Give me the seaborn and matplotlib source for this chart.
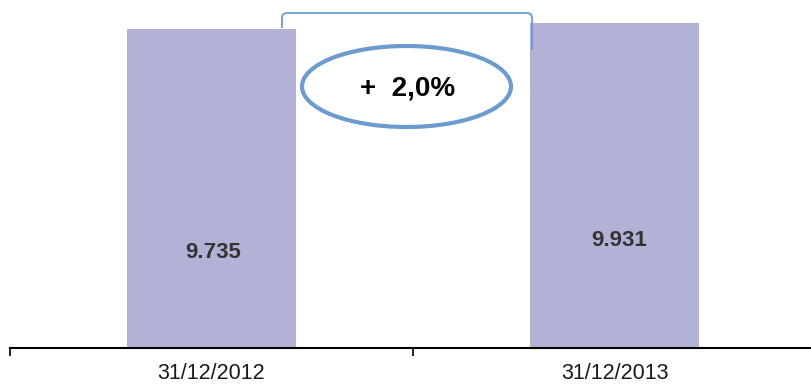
import matplotlib
matplotlib.use("Agg")
import matplotlib.pyplot as plt
import seaborn as sns
import pandas as pd
from matplotlib.patches import Ellipse, PathPatch
from matplotlib.path import Path
from matplotlib.transforms import Affine2D

categories = ["31/12/2012", "31/12/2013"]
values = [9735, 9931]
value_labels = ["9.735", "9.931"]
change_label = "+  2,0%"

BAR_COLOR = "#B1B2D6"
BLUE = "#6C9BD0"
W, H = 811, 385

sns.set_theme(style="white")
plt.rcParams["font.family"] = ["Liberation Sans", "DejaVu Sans"]

fig = plt.figure(figsize=(W / 100, H / 100), dpi=100)
ax = fig.add_axes([10 / W, (H - 348) / H, 806 / W, 348 / H])

df = pd.DataFrame({"date": categories, "value": values})
sns.barplot(data=df, x="date", y="value", color=BAR_COLOR, saturation=1,
            width=0.42, ax=ax, edgecolor="none")

ax.set_xlim(-0.5, 1.5)
ax.set_ylim(0, values[0] * 348 / 319)
ax.set_xlabel("")
ax.set_ylabel("")
ax.set_yticks([])
for s in ["top", "right", "left"]:
    ax.spines[s].set_visible(False)
ax.spines["bottom"].set_color("black")
ax.spines["bottom"].set_linewidth(1.5)
ax.tick_params(axis="x", which="major", length=0, pad=11, labelsize=15.5,
               labelcolor="#1a1a1a")
ax.set_xticks([-0.5, 0.5, 1.5], minor=True)
ax.tick_params(axis="x", which="minor", length=6, width=1.2, color="black",
               direction="out", bottom=True)

# value labels inside bars (label heights as fraction of bar)
label_frac = [0.30, 0.33]
for i, (v, lab) in enumerate(zip(values, value_labels)):
    ax.text(i + (0.012 if i == 1 else 0.005), v * label_frac[i], lab,
            ha="center", va="center",
            fontsize=16, fontweight="bold", color="#333333")

# pixel-coordinate transform (origin top-left)
pix = Affine2D().scale(1, -1).translate(0, H)

ell = Ellipse((406.5, 86.5), 209, 81, fill=False, edgecolor=BLUE,
              linewidth=3, transform=pix)
fig.add_artist(ell)
fig.text(408 / W, 1 - 89 / H, change_label, ha="center", va="center",
         fontsize=20, fontweight="bold", color="black")

# bracket
r = 5
verts = [(282, 28), (282, 13 + r), (282, 13), (282 + r, 13),
         (532 - r, 13), (532, 13), (532, 13 + r), (532, 50)]
codes = [Path.MOVETO, Path.LINETO, Path.CURVE3, Path.CURVE3,
         Path.LINETO, Path.CURVE3, Path.CURVE3, Path.LINETO]
br = PathPatch(Path(verts, codes), fill=False, edgecolor=BLUE,
               linewidth=1.3, transform=pix)
fig.add_artist(br)

fig.savefig("out.png", dpi=100)
